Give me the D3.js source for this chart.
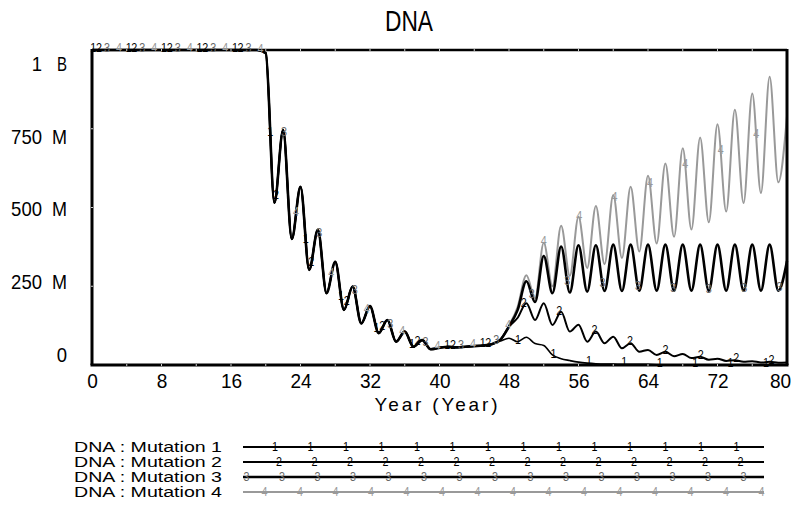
<!DOCTYPE html>
<html>
<head>
<meta charset="utf-8">
<script src="https://cdn.jsdelivr.net/npm/d3@7"></script>
<style>
body { margin: 0; background: #fff; }
svg text { font-family: "Liberation Sans", Arial, sans-serif; }
</style>
</head>
<body>
<svg width="799" height="532"></svg>
<script>
var svg = d3.select("svg");

// values in millions, one per year 0..80
var years = d3.range(0, 81);
// all four runs coincide until year 45
var early = [1000, 1000, 1000, 1000, 1000, 1000, 1000, 1000, 1000, 1000,
             1000, 1000, 1000, 1000, 1000, 1000, 1000, 1000, 1000, 1000,
             990, 515, 746, 400, 566, 302, 429, 228, 328, 175,
             249, 132, 187, 101, 143, 74, 106, 58, 79, 50,
             55, 58, 56, 58, 60, 62];
// years 46..80
var mut1Late = [66, 76, 85, 74, 88, 68, 62, 32, 20, 14, 9, 6, 4, 3, 3, 2, 2, 2, 2,
                1, 1, 1, 1, 1, 1, 1, 1, 1, 1, 1, 1, 1, 1, 1, 1];
var mut2Late = [66, 80, 122, 150, 196, 143, 196, 127, 169, 106, 128, 74, 106, 69, 90, 53, 69, 42,
                48, 32, 42, 28, 35, 22, 26, 17, 20, 13, 15, 10, 12, 8, 10, 7, 8];
var mut3Late = [66, 80, 122, 175, 266, 200, 346, 228, 376, 230, 380, 233, 380, 235, 382, 235, 382, 236,
                382, 236, 382, 236, 382, 236, 382, 236, 382, 236, 382, 236, 382, 236, 382, 236, 330];
var mut4Late = [66, 80, 125, 185, 285, 212, 388, 250, 442, 283, 471, 308, 505, 320, 540, 340, 566, 360,
                601, 386, 640, 407, 688, 430, 722, 453, 764, 487, 810, 514, 862, 546, 915, 580, 790];

var names = ["DNA : Mutation 1", "DNA : Mutation 2", "DNA : Mutation 3", "DNA : Mutation 4"];
var xTicks = [0, 8, 16, 24, 32, 40, 48, 56, 64, 72, 80];
var yTicks = [0, 250, 500, 750, 1000];

var series = [early.concat(mut1Late), early.concat(mut2Late), early.concat(mut3Late), early.concat(mut4Late)];
var colors = ["#000", "#000", "#000", "#999"];
var widths = [1.6, 2, 2.6, 2];
var markColors = ["#000", "#000", "#666", "#999"];
var markOffset = [0.15, 0.8, 1.72, 3.1];   // years
var markStep = 4.075;

var x = d3.scaleLinear().domain([0, 80]).range([92, 787]);
var y = d3.scaleLinear().domain([0, 1000]).range([365, 50]);
var yLab = d3.scaleLinear().domain([0, 1000]).range([354.5, 63.5]);

svg.append("text")
    .attr("x", 409).attr("y", 31)
    .attr("text-anchor", "middle")
    .attr("font-size", 29)
    .attr("textLength", 48).attr("lengthAdjust", "spacingAndGlyphs")
    .text("DNA");

var line = d3.line()
    .x(function(d, i) { return x(years[i]); })
    .y(function(d) { return y(d); })
    .curve(d3.curveMonotoneX);

var plot = svg.append("g");
var paths = [];
for (var k = 3; k >= 0; k--) {
  paths[k] = plot.append("path")
    .datum(series[k])
    .attr("fill", "none")
    .attr("stroke", colors[k])
    .attr("stroke-width", widths[k])
    .attr("stroke-linejoin", "round")
    .attr("d", line);
}

// frame
var fr = svg.append("g").attr("stroke", "#000");
fr.append("line").attr("x1", x(0)).attr("x2", x(80)).attr("y1", y(1000)).attr("y2", y(1000)).attr("stroke-width", 2.5);
fr.append("line").attr("x1", x(0) - 1.5).attr("x2", x(80) + 1.5).attr("y1", y(0)).attr("y2", y(0)).attr("stroke-width", 3);
fr.append("line").attr("x1", x(0)).attr("x2", x(0)).attr("y1", y(1000) - 1).attr("y2", y(0)).attr("stroke-width", 3);
fr.append("line").attr("x1", x(80)).attr("x2", x(80)).attr("y1", y(1000) - 1).attr("y2", y(0)).attr("stroke-width", 3);

// little notches on the frame
var notch = svg.append("g").attr("stroke", "#ccc").attr("stroke-width", 1);
d3.range(4, 80, 4).forEach(function(v) {
  notch.append("line").attr("x1", x(v)).attr("x2", x(v)).attr("y1", y(1000) - 1).attr("y2", y(1000) + 1);
  notch.append("line").attr("x1", x(v)).attr("x2", x(v)).attr("y1", y(0) - 1).attr("y2", y(0) + 1);
});
[250, 500, 750].forEach(function(v) {
  notch.append("line").attr("x1", x(0) - 1).attr("x2", x(0) + 1).attr("y1", y(v)).attr("y2", y(v));
});

// series markers (the run number written along each line)
function sample(node) {
  var len = node.getTotalLength(), pts = [];
  for (var l = 0; l <= len; l += 1) pts.push(node.getPointAtLength(l));
  return pts;
}
var marks = svg.append("g").attr("font-size", 12).attr("text-anchor", "middle");
for (var k = 0; k < 4; k++) {
  var pts = sample(paths[k].node());
  for (var t = markOffset[k]; t <= 80; t += markStep) {
    var px = x(t);
    var p = pts.find(function(q) { return q.x >= px; });
    if (!p) continue;
    marks.append("text")
      .attr("x", px).attr("y", p.y + 2)
      .attr("fill", markColors[k])
      .attr("textLength", 6).attr("lengthAdjust", "spacingAndGlyphs")
      .text(k + 1);
  }
}

// axes
var xAxis = svg.append("g")
    .attr("transform", "translate(0," + y(0) + ")")
    .call(d3.axisBottom(x).tickValues(xTicks).tickSize(0).tickPadding(8));
xAxis.select(".domain").remove();
xAxis.selectAll("text")
    .attr("font-size", 21).attr("fill", "#000")
    .attr("font-family", "Liberation Sans, Arial, sans-serif")
    .attr("textLength", function(d) { return 10.6 * String(d).length; })
    .attr("lengthAdjust", "spacingAndGlyphs")
    .attr("dx", function(d) { return d == 80 ? -7 : 0; });

function numStr(d) { return d >= 1000 ? String(d / 1000) : String(d); }
function unitStr(d) { return d >= 1000 ? "B" : "M"; }
var yl = svg.append("g").attr("font-size", 21).attr("text-anchor", "end");
yl.selectAll("text.num").data(yTicks).enter().append("text")
    .attr("class", "num")
    .attr("x", function(d) { return d == 0 ? 67 : 42; })
    .attr("y", function(d) { return yLab(d); })
    .attr("dy", "0.35em")
    .attr("textLength", function(d) { return 10.3 * numStr(d).length; })
    .attr("lengthAdjust", "spacingAndGlyphs")
    .text(numStr);
yl.selectAll("text.unit").data(yTicks.filter(function(d) { return d > 0; })).enter().append("text")
    .attr("class", "unit")
    .attr("x", 67)
    .attr("y", function(d) { return yLab(d); })
    .attr("dy", "0.35em")
    .attr("textLength", function(d) { return d >= 1000 ? 10 : 15; })
    .attr("lengthAdjust", "spacingAndGlyphs")
    .text(unitStr);

svg.append("text")
    .attr("x", 436).attr("y", 411)
    .attr("text-anchor", "middle")
    .attr("font-size", 19)
    .attr("textLength", 123).attr("lengthAdjust", "spacing")
    .text("Year (Year)");

// legend
var legX0 = 243, legX1 = 764;
var legMark = [32, 36, 3.5, 21.5];
var leg = svg.append("g");
names.forEach(function(n, k) {
  var ly = 447 + k * 15;
  leg.append("text")
    .attr("x", 74).attr("y", ly + 5)
    .attr("font-size", 14)
    .attr("textLength", 148).attr("lengthAdjust", "spacingAndGlyphs")
    .text(n);
  leg.append("line")
    .attr("x1", legX0).attr("x2", legX1).attr("y1", ly).attr("y2", ly)
    .attr("stroke", colors[k]).attr("stroke-width", k == 2 ? 2.6 : 2);
  for (var mx = legX0 + legMark[k]; mx <= legX1; mx += 35.5) {
    leg.append("text")
      .attr("x", mx).attr("y", ly + 4)
      .attr("font-size", 12).attr("text-anchor", "middle")
      .attr("fill", markColors[k])
      .attr("textLength", 6).attr("lengthAdjust", "spacingAndGlyphs")
      .text(k + 1);
  }
});
</script>
</body>
</html>
